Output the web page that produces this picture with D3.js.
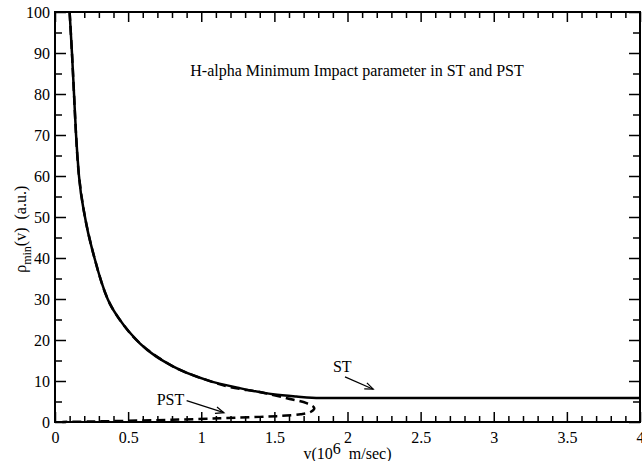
<!DOCTYPE html>
<html>
<head>
<meta charset="utf-8">
<script src="https://cdn.jsdelivr.net/npm/d3@7"></script>
<style>
  body { margin: 0; background: #fff; }
</style>
</head>
<body>
<div id="chart"></div>
<script>
// ST curve (solid)
const stV   = [0.1, 0.116, 0.13, 0.144, 0.164, 0.205, 0.27, 0.36, 0.444, 0.58, 0.81, 1.04, 1.27, 1.49, 1.65, 1.81, 4.0];
const stRho = [100, 90, 80, 70, 60, 50, 40, 30, 24.9, 19.2, 13.5, 10.2, 8.2, 6.75, 6.2, 5.85, 5.85];

// PST curve (dashed), upper branch then back along the bottom
const pstV   = [0.1, 0.116, 0.13, 0.144, 0.164, 0.205, 0.27, 0.36, 0.444, 0.58, 0.81, 1.04, 1.2, 1.4, 1.585, 1.72, 1.773, 1.75, 1.68, 1.55, 1.4, 1.13, 0.8, 0.5, 0.25, 0.05];
const pstRho = [100, 90, 80, 70, 60, 50, 40, 30, 24.9, 19.2, 13.5, 10.2, 8.5, 7.3, 5.8, 4.6, 3.4, 2.5, 1.9, 1.5, 1.25, 0.9, 0.55, 0.3, 0.12, 0.02];

const xMajor = [0, 0.5, 1, 1.5, 2, 2.5, 3, 3.5, 4];
const yMajor = [0, 10, 20, 30, 40, 50, 60, 70, 80, 90, 100];

const FONT = "'Liberation Serif', 'Times New Roman', serif";

// set the dimensions and margins of the graph
const margin = {top: 12, right: 2, bottom: 39, left: 55},
    width = 642 - margin.left - margin.right,
    height = 461 - margin.top - margin.bottom;

const svg = d3.select("#chart")
  .append("svg")
    .attr("width", 642)
    .attr("height", 461)
    .attr("font-family", FONT)
  .append("g")
    .attr("transform", `translate(${margin.left},${margin.top})`);

const x = d3.scaleLinear().domain([0, 4]).range([0, width]);
const y = d3.scaleLinear().domain([0, 100]).range([height, 0]);

const xMinor = d3.range(0, 40.5, 1).map(d => d / 10).filter(d => d % 0.5 !== 0);
const yMinor = d3.range(5, 100, 10);
const fmt = d3.format("~g");

function styleAxis(g) {
  g.attr("font-family", FONT);
  g.select(".domain").remove();
  g.selectAll("line").attr("stroke", "#000").attr("stroke-width", 1.5);
  g.selectAll("text").style("font-size", "16px").style("font-family", FONT).attr("fill", "#000");
}

// bottom axis with labels
svg.append("g")
  .attr("transform", `translate(0,${height})`)
  .call(d3.axisBottom(x).tickValues(xMajor).tickSize(-10).tickPadding(6).tickFormat(fmt))
  .call(styleAxis)
  .selectAll("text").attr("dy", "0.95em");
svg.append("g")
  .attr("transform", `translate(0,${height})`)
  .call(d3.axisBottom(x).tickValues(xMinor).tickSize(-6).tickFormat(""))
  .call(styleAxis);

// top mirror ticks
svg.append("g")
  .call(d3.axisTop(x).tickValues(xMajor).tickSize(-10).tickFormat(""))
  .call(styleAxis);
svg.append("g")
  .call(d3.axisTop(x).tickValues(xMinor).tickSize(-6).tickFormat(""))
  .call(styleAxis);

// left axis with labels
svg.append("g")
  .call(d3.axisLeft(y).tickValues(yMajor).tickSize(-11).tickPadding(6).tickFormat(fmt))
  .call(styleAxis)
  .selectAll("text").attr("x", -5);
svg.append("g")
  .call(d3.axisLeft(y).tickValues(yMinor).tickSize(-7).tickFormat(""))
  .call(styleAxis);

// right mirror ticks
svg.append("g")
  .attr("transform", `translate(${width},0)`)
  .call(d3.axisRight(y).tickValues(yMajor).tickSize(-11).tickFormat(""))
  .call(styleAxis);
svg.append("g")
  .attr("transform", `translate(${width},0)`)
  .call(d3.axisRight(y).tickValues(yMinor).tickSize(-7).tickFormat(""))
  .call(styleAxis);

// frame
svg.append("rect")
  .attr("width", width)
  .attr("height", height)
  .attr("fill", "none")
  .attr("stroke", "#000")
  .attr("stroke-width", 2);

// curves
const stLine = d3.line()
  .x(d => x(d[0]))
  .y(d => y(d[1]))
  .curve(d3.curveMonotoneX);

const pstLine = d3.line()
  .x(d => x(d[0]))
  .y(d => y(d[1]))
  .curve(d3.curveCatmullRom.alpha(0.5));

svg.append("path")
  .datum(pstV.map((v, i) => [v, pstRho[i]]))
  .attr("fill", "none")
  .attr("stroke", "#000")
  .attr("stroke-width", 2.5)
  .attr("stroke-dasharray", "9,5")
  .attr("d", pstLine);

svg.append("path")
  .datum(stV.map((v, i) => [v, stRho[i]]))
  .attr("fill", "none")
  .attr("stroke", "#000")
  .attr("stroke-width", 2.5)
  .attr("d", stLine);

function label(xp, yp, str, anchor) {
  return svg.append("text")
    .attr("x", xp)
    .attr("y", yp)
    .attr("text-anchor", anchor || "start")
    .style("font-family", FONT)
    .style("font-size", "16px")
    .text(str);
}

// title
label(x(2.065), y(84.4), "H-alpha Minimum Impact parameter in ST and PST", "middle");

// annotations with arrows
function arrow(x1, y1, x2, y2) {
  const ang = Math.atan2(y2 - y1, x2 - x1), len = 9, spread = 0.38;
  svg.append("line")
    .attr("x1", x1).attr("y1", y1).attr("x2", x2).attr("y2", y2)
    .attr("stroke", "#000").attr("stroke-width", 1.2);
  svg.append("path")
    .attr("d", `M${x2 - len * Math.cos(ang - spread)},${y2 - len * Math.sin(ang - spread)}L${x2},${y2}L${x2 - len * Math.cos(ang + spread)},${y2 - len * Math.sin(ang + spread)}`)
    .attr("fill", "none")
    .attr("stroke", "#000")
    .attr("stroke-width", 1.2);
}

label(x(1.90), y(12.2), "ST");
arrow(x(1.983), y(11.0), x(2.176), y(8.0));

label(x(0.695), y(4.15), "PST");
arrow(x(0.90), y(5.2), x(1.155), y(2.27));

// axis titles
const xt = label(width / 2, height + 37, "", "middle");
xt.append("tspan").text("v(10");
xt.append("tspan").attr("dy", -5).text("6");
xt.append("tspan").attr("dy", 5).text("\u00a0\u00a0m/sec)");

const yt = svg.append("text")
  .attr("transform", `translate(${-margin.left + 26},${y(47)}) rotate(-90)`)
  .attr("text-anchor", "middle")
  .style("font-family", FONT)
  .style("font-size", "16px");
yt.append("tspan").text("\u03c1");
yt.append("tspan").attr("dy", 5).style("font-size", "12px").text("min");
yt.append("tspan").attr("dy", -5).text("(v)\u00a0\u00a0(a.u.)");
</script>
</body>
</html>
